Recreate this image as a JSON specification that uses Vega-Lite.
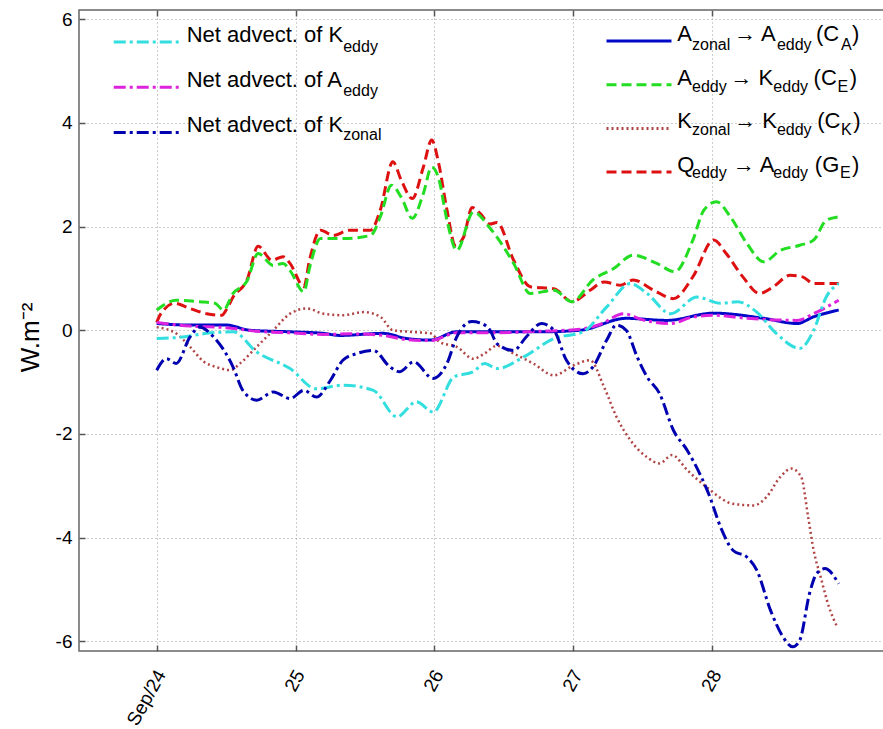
{
  "$schema": "https://vega.github.io/schema/vega-lite/v6.json",
  "width": 806,
  "height": 641,
  "autosize": {"type": "none"},
  "padding": {"left": 79, "top": 10, "right": 0, "bottom": 78},
  "background": "white",
  "config": {
    "view": {"stroke": "#666666", "strokeWidth": 1.5},
    "axis": {
      "domain": false,
      "grid": true,
      "gridColor": "#9a9a9a",
      "gridDash": [1, 3],
      "gridWidth": 1,
      "ticks": true,
      "tickColor": "#555555",
      "tickWidth": 1.5,
      "tickSize": -6,
      "labelFont": "Liberation Sans",
      "labelFontSize": 19,
      "labelColor": "#000000",
      "labelFlush": false,
      "labelOverlap": false
    }
  },
  "data": {
    "values": [
      {"s": "G_E", "d": 24.00, "v": 0.15}, {"s": "G_E", "d": 24.03, "v": 0.32}, {"s": "G_E", "d": 24.13, "v": 0.52}, {"s": "G_E", "d": 24.24, "v": 0.42},
      {"s": "G_E", "d": 24.36, "v": 0.32}, {"s": "G_E", "d": 24.47, "v": 0.29}, {"s": "G_E", "d": 24.50, "v": 0.39}, {"s": "G_E", "d": 24.55, "v": 0.64},
      {"s": "G_E", "d": 24.65, "v": 0.97}, {"s": "G_E", "d": 24.73, "v": 1.62}, {"s": "G_E", "d": 24.83, "v": 1.35}, {"s": "G_E", "d": 24.91, "v": 1.42},
      {"s": "G_E", "d": 24.96, "v": 1.29}, {"s": "G_E", "d": 25.06, "v": 0.84}, {"s": "G_E", "d": 25.10, "v": 1.35}, {"s": "G_E", "d": 25.18, "v": 1.93},
      {"s": "G_E", "d": 25.27, "v": 1.83}, {"s": "G_E", "d": 25.39, "v": 1.93}, {"s": "G_E", "d": 25.54, "v": 1.93}, {"s": "G_E", "d": 25.61, "v": 2.32},
      {"s": "G_E", "d": 25.70, "v": 3.25}, {"s": "G_E", "d": 25.76, "v": 2.90}, {"s": "G_E", "d": 25.84, "v": 2.54}, {"s": "G_E", "d": 25.92, "v": 3.15},
      {"s": "G_E", "d": 25.98, "v": 3.67}, {"s": "G_E", "d": 26.03, "v": 3.22}, {"s": "G_E", "d": 26.09, "v": 2.32}, {"s": "G_E", "d": 26.15, "v": 1.64},
      {"s": "G_E", "d": 26.21, "v": 1.80}, {"s": "G_E", "d": 26.27, "v": 2.37}, {"s": "G_E", "d": 26.33, "v": 2.25}, {"s": "G_E", "d": 26.40, "v": 2.05},
      {"s": "G_E", "d": 26.45, "v": 2.08}, {"s": "G_E", "d": 26.57, "v": 1.35}, {"s": "G_E", "d": 26.69, "v": 0.84}, {"s": "G_E", "d": 26.86, "v": 0.80},
      {"s": "G_E", "d": 26.99, "v": 0.55}, {"s": "G_E", "d": 27.12, "v": 0.77}, {"s": "G_E", "d": 27.22, "v": 0.93}, {"s": "G_E", "d": 27.34, "v": 0.87},
      {"s": "G_E", "d": 27.43, "v": 0.97}, {"s": "G_E", "d": 27.58, "v": 0.77}, {"s": "G_E", "d": 27.72, "v": 0.61}, {"s": "G_E", "d": 27.86, "v": 1.03},
      {"s": "G_E", "d": 28.01, "v": 1.74}, {"s": "G_E", "d": 28.10, "v": 1.48}, {"s": "G_E", "d": 28.22, "v": 1.03}, {"s": "G_E", "d": 28.34, "v": 0.71},
      {"s": "G_E", "d": 28.44, "v": 0.84}, {"s": "G_E", "d": 28.56, "v": 1.06}, {"s": "G_E", "d": 28.65, "v": 1.03}, {"s": "G_E", "d": 28.73, "v": 0.90},
      {"s": "G_E", "d": 28.91, "v": 0.90},

      {"s": "C_E", "d": 24.00, "v": 0.39}, {"s": "C_E", "d": 24.14, "v": 0.58}, {"s": "C_E", "d": 24.31, "v": 0.55}, {"s": "C_E", "d": 24.42, "v": 0.52},
      {"s": "C_E", "d": 24.48, "v": 0.39}, {"s": "C_E", "d": 24.55, "v": 0.71}, {"s": "C_E", "d": 24.65, "v": 0.95}, {"s": "C_E", "d": 24.73, "v": 1.48},
      {"s": "C_E", "d": 24.84, "v": 1.25}, {"s": "C_E", "d": 24.91, "v": 1.29}, {"s": "C_E", "d": 24.96, "v": 1.15}, {"s": "C_E", "d": 25.06, "v": 0.74},
      {"s": "C_E", "d": 25.10, "v": 1.20}, {"s": "C_E", "d": 25.18, "v": 1.77}, {"s": "C_E", "d": 25.34, "v": 1.77}, {"s": "C_E", "d": 25.54, "v": 1.83},
      {"s": "C_E", "d": 25.61, "v": 2.19}, {"s": "C_E", "d": 25.69, "v": 2.80}, {"s": "C_E", "d": 25.76, "v": 2.57}, {"s": "C_E", "d": 25.84, "v": 2.16},
      {"s": "C_E", "d": 25.92, "v": 2.64}, {"s": "C_E", "d": 25.98, "v": 3.15}, {"s": "C_E", "d": 26.03, "v": 2.93}, {"s": "C_E", "d": 26.09, "v": 2.12},
      {"s": "C_E", "d": 26.16, "v": 1.54}, {"s": "C_E", "d": 26.28, "v": 2.28}, {"s": "C_E", "d": 26.40, "v": 1.97}, {"s": "C_E", "d": 26.57, "v": 1.29},
      {"s": "C_E", "d": 26.69, "v": 0.71}, {"s": "C_E", "d": 26.86, "v": 0.77}, {"s": "C_E", "d": 26.99, "v": 0.55}, {"s": "C_E", "d": 27.14, "v": 0.97},
      {"s": "C_E", "d": 27.29, "v": 1.19}, {"s": "C_E", "d": 27.43, "v": 1.45}, {"s": "C_E", "d": 27.60, "v": 1.29}, {"s": "C_E", "d": 27.73, "v": 1.13},
      {"s": "C_E", "d": 27.86, "v": 1.74}, {"s": "C_E", "d": 27.94, "v": 2.32}, {"s": "C_E", "d": 28.03, "v": 2.48}, {"s": "C_E", "d": 28.13, "v": 2.19},
      {"s": "C_E", "d": 28.25, "v": 1.67}, {"s": "C_E", "d": 28.37, "v": 1.32}, {"s": "C_E", "d": 28.49, "v": 1.54}, {"s": "C_E", "d": 28.63, "v": 1.64},
      {"s": "C_E", "d": 28.73, "v": 1.74}, {"s": "C_E", "d": 28.82, "v": 2.12}, {"s": "C_E", "d": 28.91, "v": 2.19},

      {"s": "C_K", "d": 24.00, "v": 0.06}, {"s": "C_K", "d": 24.14, "v": -0.06}, {"s": "C_K", "d": 24.24, "v": -0.32}, {"s": "C_K", "d": 24.34, "v": -0.61},
      {"s": "C_K", "d": 24.43, "v": -0.71}, {"s": "C_K", "d": 24.53, "v": -0.77}, {"s": "C_K", "d": 24.60, "v": -0.64}, {"s": "C_K", "d": 24.72, "v": -0.32},
      {"s": "C_K", "d": 24.84, "v": 0.00}, {"s": "C_K", "d": 24.96, "v": 0.32}, {"s": "C_K", "d": 25.08, "v": 0.42}, {"s": "C_K", "d": 25.20, "v": 0.32},
      {"s": "C_K", "d": 25.34, "v": 0.29}, {"s": "C_K", "d": 25.49, "v": 0.35}, {"s": "C_K", "d": 25.61, "v": 0.26}, {"s": "C_K", "d": 25.70, "v": 0.00},
      {"s": "C_K", "d": 25.82, "v": -0.03}, {"s": "C_K", "d": 25.97, "v": -0.06}, {"s": "C_K", "d": 26.04, "v": -0.23}, {"s": "C_K", "d": 26.16, "v": -0.32},
      {"s": "C_K", "d": 26.28, "v": -0.55}, {"s": "C_K", "d": 26.36, "v": -0.45}, {"s": "C_K", "d": 26.45, "v": -0.30}, {"s": "C_K", "d": 26.57, "v": -0.45},
      {"s": "C_K", "d": 26.71, "v": -0.64}, {"s": "C_K", "d": 26.86, "v": -0.87}, {"s": "C_K", "d": 27.00, "v": -0.68}, {"s": "C_K", "d": 27.12, "v": -0.58},
      {"s": "C_K", "d": 27.22, "v": -1.09}, {"s": "C_K", "d": 27.31, "v": -1.67}, {"s": "C_K", "d": 27.41, "v": -2.12}, {"s": "C_K", "d": 27.53, "v": -2.45},
      {"s": "C_K", "d": 27.62, "v": -2.57}, {"s": "C_K", "d": 27.71, "v": -2.41}, {"s": "C_K", "d": 27.82, "v": -2.70}, {"s": "C_K", "d": 27.96, "v": -3.03},
      {"s": "C_K", "d": 28.15, "v": -3.35}, {"s": "C_K", "d": 28.30, "v": -3.38}, {"s": "C_K", "d": 28.39, "v": -3.22}, {"s": "C_K", "d": 28.49, "v": -2.83},
      {"s": "C_K", "d": 28.57, "v": -2.67}, {"s": "C_K", "d": 28.64, "v": -2.83}, {"s": "C_K", "d": 28.69, "v": -3.60}, {"s": "C_K", "d": 28.73, "v": -4.25},
      {"s": "C_K", "d": 28.78, "v": -4.76}, {"s": "C_K", "d": 28.84, "v": -5.34}, {"s": "C_K", "d": 28.90, "v": -5.73},

      {"s": "C_A", "d": 24.00, "v": 0.13}, {"s": "C_A", "d": 24.24, "v": 0.10}, {"s": "C_A", "d": 24.50, "v": 0.10}, {"s": "C_A", "d": 24.67, "v": 0.00},
      {"s": "C_A", "d": 24.96, "v": -0.03}, {"s": "C_A", "d": 25.20, "v": -0.06}, {"s": "C_A", "d": 25.32, "v": -0.10}, {"s": "C_A", "d": 25.63, "v": -0.06},
      {"s": "C_A", "d": 25.80, "v": -0.16}, {"s": "C_A", "d": 25.97, "v": -0.19}, {"s": "C_A", "d": 26.16, "v": -0.03}, {"s": "C_A", "d": 26.40, "v": -0.03},
      {"s": "C_A", "d": 26.76, "v": -0.03}, {"s": "C_A", "d": 27.05, "v": 0.00}, {"s": "C_A", "d": 27.38, "v": 0.23}, {"s": "C_A", "d": 27.67, "v": 0.19},
      {"s": "C_A", "d": 28.01, "v": 0.33}, {"s": "C_A", "d": 28.37, "v": 0.23}, {"s": "C_A", "d": 28.61, "v": 0.13}, {"s": "C_A", "d": 28.73, "v": 0.26},
      {"s": "C_A", "d": 28.91, "v": 0.39},

      {"s": "adv_Aeddy", "d": 24.00, "v": 0.15}, {"s": "adv_Aeddy", "d": 24.24, "v": 0.08}, {"s": "adv_Aeddy", "d": 24.50, "v": 0.05}, {"s": "adv_Aeddy", "d": 24.72, "v": -0.02},
      {"s": "adv_Aeddy", "d": 24.96, "v": -0.05}, {"s": "adv_Aeddy", "d": 25.20, "v": -0.08}, {"s": "adv_Aeddy", "d": 25.40, "v": -0.07}, {"s": "adv_Aeddy", "d": 25.63, "v": -0.10},
      {"s": "adv_Aeddy", "d": 25.80, "v": -0.18}, {"s": "adv_Aeddy", "d": 25.97, "v": -0.20}, {"s": "adv_Aeddy", "d": 26.16, "v": -0.05}, {"s": "adv_Aeddy", "d": 26.40, "v": -0.05},
      {"s": "adv_Aeddy", "d": 26.76, "v": -0.02}, {"s": "adv_Aeddy", "d": 27.05, "v": 0.02}, {"s": "adv_Aeddy", "d": 27.20, "v": 0.12}, {"s": "adv_Aeddy", "d": 27.36, "v": 0.32},
      {"s": "adv_Aeddy", "d": 27.50, "v": 0.20}, {"s": "adv_Aeddy", "d": 27.70, "v": 0.13}, {"s": "adv_Aeddy", "d": 27.85, "v": 0.25}, {"s": "adv_Aeddy", "d": 28.01, "v": 0.29},
      {"s": "adv_Aeddy", "d": 28.25, "v": 0.23}, {"s": "adv_Aeddy", "d": 28.45, "v": 0.20}, {"s": "adv_Aeddy", "d": 28.61, "v": 0.19}, {"s": "adv_Aeddy", "d": 28.73, "v": 0.32},
      {"s": "adv_Aeddy", "d": 28.91, "v": 0.58},

      {"s": "adv_Keddy", "d": 24.00, "v": -0.16}, {"s": "adv_Keddy", "d": 24.19, "v": -0.13}, {"s": "adv_Keddy", "d": 24.36, "v": -0.06}, {"s": "adv_Keddy", "d": 24.55, "v": -0.03},
      {"s": "adv_Keddy", "d": 24.72, "v": -0.42}, {"s": "adv_Keddy", "d": 24.96, "v": -0.74}, {"s": "adv_Keddy", "d": 25.15, "v": -1.13}, {"s": "adv_Keddy", "d": 25.34, "v": -1.06},
      {"s": "adv_Keddy", "d": 25.56, "v": -1.16}, {"s": "adv_Keddy", "d": 25.73, "v": -1.67}, {"s": "adv_Keddy", "d": 25.87, "v": -1.38}, {"s": "adv_Keddy", "d": 25.99, "v": -1.58},
      {"s": "adv_Keddy", "d": 26.14, "v": -0.90}, {"s": "adv_Keddy", "d": 26.28, "v": -0.80}, {"s": "adv_Keddy", "d": 26.36, "v": -0.64}, {"s": "adv_Keddy", "d": 26.45, "v": -0.74},
      {"s": "adv_Keddy", "d": 26.64, "v": -0.52}, {"s": "adv_Keddy", "d": 26.86, "v": -0.16}, {"s": "adv_Keddy", "d": 27.07, "v": -0.03}, {"s": "adv_Keddy", "d": 27.24, "v": 0.45},
      {"s": "adv_Keddy", "d": 27.41, "v": 0.90}, {"s": "adv_Keddy", "d": 27.53, "v": 0.71}, {"s": "adv_Keddy", "d": 27.70, "v": 0.32}, {"s": "adv_Keddy", "d": 27.89, "v": 0.64},
      {"s": "adv_Keddy", "d": 28.06, "v": 0.52}, {"s": "adv_Keddy", "d": 28.18, "v": 0.55}, {"s": "adv_Keddy", "d": 28.32, "v": 0.35}, {"s": "adv_Keddy", "d": 28.46, "v": -0.06},
      {"s": "adv_Keddy", "d": 28.63, "v": -0.35}, {"s": "adv_Keddy", "d": 28.73, "v": 0.00}, {"s": "adv_Keddy", "d": 28.82, "v": 0.64}, {"s": "adv_Keddy", "d": 28.91, "v": 0.90},

      {"s": "adv_Kzonal", "d": 24.00, "v": -0.77}, {"s": "adv_Kzonal", "d": 24.07, "v": -0.55}, {"s": "adv_Kzonal", "d": 24.14, "v": -0.64}, {"s": "adv_Kzonal", "d": 24.24, "v": -0.13},
      {"s": "adv_Kzonal", "d": 24.31, "v": 0.06}, {"s": "adv_Kzonal", "d": 24.41, "v": -0.13}, {"s": "adv_Kzonal", "d": 24.55, "v": -0.71}, {"s": "adv_Kzonal", "d": 24.62, "v": -1.16},
      {"s": "adv_Kzonal", "d": 24.72, "v": -1.35}, {"s": "adv_Kzonal", "d": 24.84, "v": -1.19}, {"s": "adv_Kzonal", "d": 24.96, "v": -1.32}, {"s": "adv_Kzonal", "d": 25.06, "v": -1.16},
      {"s": "adv_Kzonal", "d": 25.15, "v": -1.29}, {"s": "adv_Kzonal", "d": 25.25, "v": -0.97}, {"s": "adv_Kzonal", "d": 25.34, "v": -0.58}, {"s": "adv_Kzonal", "d": 25.44, "v": -0.45},
      {"s": "adv_Kzonal", "d": 25.56, "v": -0.39}, {"s": "adv_Kzonal", "d": 25.68, "v": -0.71}, {"s": "adv_Kzonal", "d": 25.75, "v": -0.80}, {"s": "adv_Kzonal", "d": 25.85, "v": -0.61},
      {"s": "adv_Kzonal", "d": 25.99, "v": -0.93}, {"s": "adv_Kzonal", "d": 26.09, "v": -0.64}, {"s": "adv_Kzonal", "d": 26.16, "v": -0.13}, {"s": "adv_Kzonal", "d": 26.27, "v": 0.17},
      {"s": "adv_Kzonal", "d": 26.33, "v": 0.14}, {"s": "adv_Kzonal", "d": 26.40, "v": 0.00}, {"s": "adv_Kzonal", "d": 26.45, "v": -0.26}, {"s": "adv_Kzonal", "d": 26.57, "v": -0.39},
      {"s": "adv_Kzonal", "d": 26.66, "v": -0.13}, {"s": "adv_Kzonal", "d": 26.77, "v": 0.13}, {"s": "adv_Kzonal", "d": 26.86, "v": 0.00}, {"s": "adv_Kzonal", "d": 26.95, "v": -0.58},
      {"s": "adv_Kzonal", "d": 27.07, "v": -0.84}, {"s": "adv_Kzonal", "d": 27.14, "v": -0.71}, {"s": "adv_Kzonal", "d": 27.24, "v": -0.19}, {"s": "adv_Kzonal", "d": 27.31, "v": 0.10},
      {"s": "adv_Kzonal", "d": 27.38, "v": 0.00}, {"s": "adv_Kzonal", "d": 27.46, "v": -0.52}, {"s": "adv_Kzonal", "d": 27.53, "v": -0.90}, {"s": "adv_Kzonal", "d": 27.62, "v": -1.22},
      {"s": "adv_Kzonal", "d": 27.72, "v": -1.93}, {"s": "adv_Kzonal", "d": 27.82, "v": -2.32}, {"s": "adv_Kzonal", "d": 27.91, "v": -2.77}, {"s": "adv_Kzonal", "d": 27.98, "v": -3.20},
      {"s": "adv_Kzonal", "d": 28.06, "v": -3.80}, {"s": "adv_Kzonal", "d": 28.15, "v": -4.25}, {"s": "adv_Kzonal", "d": 28.25, "v": -4.38}, {"s": "adv_Kzonal", "d": 28.32, "v": -4.63},
      {"s": "adv_Kzonal", "d": 28.42, "v": -5.41}, {"s": "adv_Kzonal", "d": 28.51, "v": -5.92}, {"s": "adv_Kzonal", "d": 28.58, "v": -6.11}, {"s": "adv_Kzonal", "d": 28.63, "v": -5.98},
      {"s": "adv_Kzonal", "d": 28.70, "v": -5.08}, {"s": "adv_Kzonal", "d": 28.75, "v": -4.70}, {"s": "adv_Kzonal", "d": 28.81, "v": -4.60}, {"s": "adv_Kzonal", "d": 28.91, "v": -4.89}
    ]
  },
  "layer": [
    {
      "transform": [
        {"filter": {"field": "s", "oneOf": ["C_A", "C_E", "C_K", "G_E"]}},
        {"calculate": "datum.s", "as": "k"}
      ],
      "encoding": {
        "x": {
          "field": "d", "type": "quantitative",
          "scale": {"domain": [23.4406, 29.2434], "nice": false, "zero": false},
          "axis": {"orient": "top", "values": [24, 25, 26, 27, 28], "labels": false, "grid": false, "ticks": true, "title": null}
        },
        "y": {
          "field": "v", "type": "quantitative",
          "scale": {"domain": [-6.19, 6.18], "nice": false, "zero": false},
          "axis": {
            "values": [-6, -4, -2, 0, 2, 4, 6], "grid": true, "ticks": true,
            "labelExpr": "'' + datum.value",
            "labelPadding": 13, "labelBaseline": "middle",
            "title": "W.m\u207b\u00b2", "titleFont": "Liberation Sans", "titleFontSize": 26,
            "titleFontWeight": "normal", "titleColor": "#000000", "titleAngle": -90,
            "titleX": -49, "titleY": 327, "titleAlign": "center", "titleBaseline": "middle"
          }
        },
        "color": {
          "field": "s", "type": "nominal",
          "scale": {"domain": ["C_A", "C_E", "C_K", "G_E"], "range": ["#0008c8", "#22dd22", "#b04444", "#dd1111"]},
          "legend": {
            "orient": "none", "legendX": 526, "legendY": 14, "title": null, "padding": 0,
            "symbolType": "stroke", "symbolSize": 4225, "symbolStrokeWidth": 3,
            "labelFont": "Liberation Sans", "labelFontSize": 22, "labelColor": "#000000",
            "labelBaseline": "alphabetic", "labelOffset": 4.3, "labelLimit": 1000,
            "clipHeight": 34, "rowPadding": 8.7,
            "labelExpr": "datum.value == 'C_A' ? 'A\u2003\u2002\u2005\u2006\u2192 A\u2003\u2002\u2004(C\u2004\u2005)' : datum.value == 'C_E' ? 'A\u2003\u2002\u2005\u2192 K\u2003\u2002\u2004(C\u2004\u2005)' : datum.value == 'C_K' ? 'K\u2003\u2002\u2005\u2006\u2192 K\u2003\u2002\u2004(C\u2004\u2005)' : 'Q\u2003\u2002\u2005\u2192 A\u2003\u2002\u2004(G\u2004\u2005)'"
          }
        },
        "strokeDash": {
          "field": "s", "type": "nominal",
          "scale": {"domain": ["C_A", "C_E", "C_K", "G_E"], "range": [[1, 0], [10, 5], [2, 3], [10, 5]]},
          "legend": {}
        },
        "opacity": {
          "field": "k", "type": "nominal",
          "scale": {"type": "point", "domain": ["C_A", "C_E", "C_K", "G_E", "zz"], "range": [1, 1]},
          "legend": {
            "orient": "none", "legendX": 540.7, "legendY": 22.5, "title": null, "padding": 0,
            "symbolType": "stroke", "symbolSize": 4225, "symbolStrokeWidth": 3, "symbolOpacity": 0,
            "symbolStrokeColor": "rgba(0,0,0,0)", "symbolFillColor": "rgba(0,0,0,0)",
            "labelFont": "Liberation Sans", "labelFontSize": 16, "labelColor": "#000000",
            "labelBaseline": "alphabetic", "labelOffset": 4.3, "labelLimit": 1000,
            "clipHeight": 34, "rowPadding": 8.7,
            "labelExpr": "datum.value == 'C_A' ? 'zonal\u2003\u2003\u2002\u2005\u2006eddy\u2003\u2002\u2004A' : datum.value == 'C_E' ? 'eddy\u2003\u2003\u2002\u2005\u2006eddy\u2003\u2002\u2004E' : datum.value == 'C_K' ? 'zonal\u2003\u2003\u2002\u2005\u2006eddy\u2003\u2002\u2004K' : datum.value == 'G_E' ? '\u2006eddy\u2003\u2003\u2002\u2005\u2006eddy\u2003\u2002\u2004\u2006E' : ''"
          }
        }
      },
      "layer": [
        {
          "transform": [{"filter": "datum.s != 'C_K'"}],
          "mark": {"type": "line", "strokeWidth": 3, "interpolate": "monotone", "clip": true}
        },
        {
          "transform": [{"filter": "datum.s == 'C_K'"}],
          "mark": {"type": "line", "strokeWidth": 2.5, "interpolate": "monotone", "clip": true}
        }
      ]
    },
    {
      "transform": [
        {"filter": {"field": "s", "oneOf": ["adv_Keddy", "adv_Aeddy", "adv_Kzonal"]}},
        {"calculate": "datum.s", "as": "k"}
      ],
      "mark": {"type": "line", "strokeWidth": 3, "interpolate": "monotone", "clip": true},
      "encoding": {
        "x": {
          "field": "d", "type": "quantitative",
          "scale": {"domain": [23.4406, 29.2434], "nice": false, "zero": false},
          "axis": {
            "orient": "bottom", "values": [24, 25, 26, 27, 28], "title": null, "grid": true, "ticks": true,
            "labelExpr": "datum.value == 24 ? 'Sep/24' : '' + datum.value",
            "labelAngle": -61, "labelAlign": "right", "labelBaseline": "middle",
            "labelPadding": 26, "labelOffset": 4
          }
        },
        "y": {
          "field": "v", "type": "quantitative",
          "scale": {"domain": [-6.19, 6.18], "nice": false, "zero": false},
          "axis": {
            "values": [-6, -4, -2, 0, 2, 4, 6], "grid": true, "ticks": true,
            "labelExpr": "'' + datum.value",
            "labelPadding": 13, "labelBaseline": "middle",
            "title": "W.m\u207b\u00b2", "titleFont": "Liberation Sans", "titleFontSize": 26,
            "titleFontWeight": "normal", "titleColor": "#000000", "titleAngle": -90,
            "titleX": -49, "titleY": 327, "titleAlign": "center", "titleBaseline": "middle"
          }
        },
        "color": {
          "field": "s", "type": "nominal",
          "scale": {"domain": ["adv_Keddy", "adv_Aeddy", "adv_Kzonal"], "range": ["#33dede", "#dd22dd", "#0000b0"]},
          "legend": {
            "orient": "none", "legendX": 33, "legendY": 15, "title": null, "padding": 0,
            "symbolType": "stroke", "symbolSize": 4700, "symbolStrokeWidth": 3,
            "labelFont": "Liberation Sans", "labelFontSize": 22, "labelColor": "#000000",
            "labelBaseline": "alphabetic", "labelOffset": 2.7, "labelLimit": 1000,
            "clipHeight": 34, "rowPadding": 10.2,
            "labelExpr": "datum.value == 'adv_Aeddy' ? '\u2005Net advect. of A' : 'Net advect. of K'"
          }
        },
        "strokeDash": {
          "field": "s", "type": "nominal",
          "scale": {"domain": ["adv_Keddy", "adv_Aeddy", "adv_Kzonal"], "range": [[12, 4, 3, 4], [12, 4, 3, 4], [12, 4, 3, 4]]},
          "legend": {}
        },
        "opacity": {
          "field": "k", "type": "nominal",
          "scale": {"type": "point", "domain": ["adv_Keddy", "adv_Aeddy", "adv_Kzonal", "zz"], "range": [1, 1]},
          "legend": {
            "orient": "none", "legendX": 189.5, "legendY": 25, "title": null, "padding": 0,
            "symbolType": "stroke", "symbolSize": 4700, "symbolStrokeWidth": 3, "symbolOpacity": 0,
            "symbolStrokeColor": "rgba(0,0,0,0)", "symbolFillColor": "rgba(0,0,0,0)",
            "labelFont": "Liberation Sans", "labelFontSize": 16, "labelColor": "#000000",
            "labelBaseline": "alphabetic", "labelOffset": 2.7, "labelLimit": 1000,
            "clipHeight": 34, "rowPadding": 10.2,
            "labelExpr": "datum.value == 'adv_Kzonal' ? 'zonal' : datum.value == 'adv_Aeddy' ? '\u2004eddy' : datum.value == 'adv_Keddy' ? 'eddy' : ''"
          }
        }
      }
    }
  ],
  "resolve": {
    "scale": {"color": "independent", "strokeDash": "independent", "opacity": "independent"},
    "axis": {"x": "independent"}
  }
}
